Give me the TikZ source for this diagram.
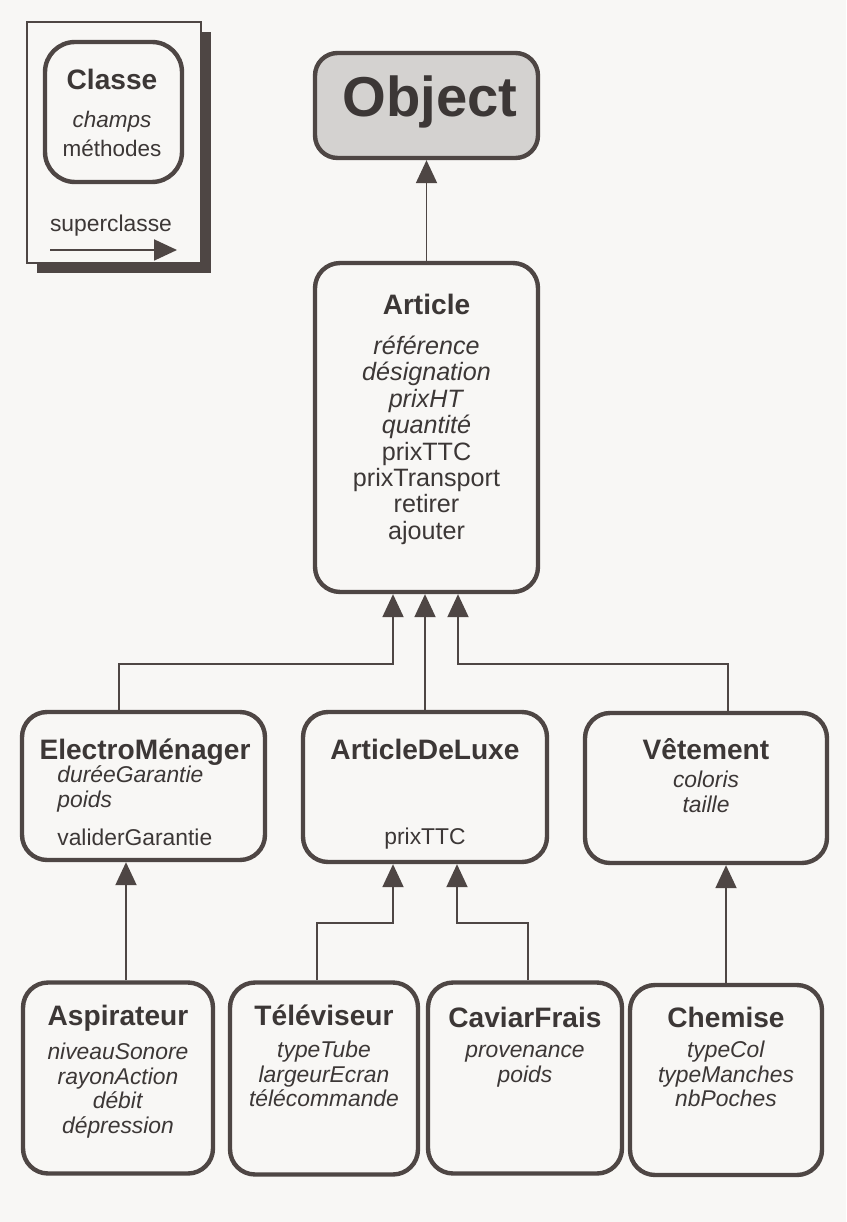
\documentclass[tikz,border=0pt]{standalone}
\usepackage{fontspec}
\setmainfont{Liberation Sans}
\usetikzlibrary{arrows.meta}

\definecolor{linecol}{RGB}{78,70,68}
\definecolor{textcol}{RGB}{60,55,54}
\definecolor{bgcol}{RGB}{248,247,245}
\definecolor{objfill}{RGB}{212,210,208}

% stacked member lines, fixed baseline distance
\newcommand{\memberstack}[1]{\vtop{\lineskiplimit=-20pt\lineskip=0pt\halign{\hfil##\hfil\cr#1\crcr}}}
\newcommand{\memberstackl}[1]{\vtop{\lineskiplimit=-20pt\lineskip=0pt\halign{##\hfil\cr#1\crcr}}}

\begin{document}
\begin{tikzpicture}[
    x=0.02cm, y=-0.02cm,
    classbox/.style={rectangle, draw=linecol, line width=2.5pt, rounded corners=0.5cm, inner sep=0pt},
    classname/.style={font=\fontsize{16}{18}\selectfont\bfseries, text=textcol, anchor=mid, inner sep=0pt},
    members/.style={font=\fontsize{13}{14}\selectfont, text=textcol, anchor=mid, inner sep=0pt},
    inh/.style={draw=linecol, line width=1.1pt, -{Triangle[length=0.46cm, width=0.42cm]}}
]

\fill[bgcol] (0,0) rectangle (846,1222);
\useasboundingbox (0,0) rectangle (846,1222);

% Legend (framed card with shadow)
\fill[linecol] (37,32) rectangle (211,273);
\draw[linecol, line width=1.3pt, fill=bgcol] (27,22) rectangle (201,263);
\node[classbox, minimum width=2.74cm, minimum height=2.8cm, rounded corners=0.6cm] (legend-box) at (113.5,112) {};
\node[classname] (legend-t) at (112,85) {Classe};
\node[members, font=\fontsize{12.8}{16.4}\selectfont] (legend-m) at (112,123) {\memberstack{\textit{champs}\cr méthodes}};
\node[members] (legend-s) at (111,227) {superclasse};
\coordinate (legend-a) at (50,250);
\coordinate (legend-b) at (177,250);
\draw[inh] (legend-a) -- (legend-b);

% Object (root)
\node[classbox, fill=objfill, minimum width=4.46cm, minimum height=2.1cm, rounded corners=0.45cm] (object) at (426.5,105.5) {};
\node[font=\fontsize{32}{36}\selectfont\bfseries, text=textcol, anchor=mid, inner sep=0pt] (object-t) at (430,112) {Object};

% Article
\node[classbox, minimum width=4.46cm, minimum height=6.58cm] (article) at (426.5,427.5) {};
\node[classname] (article-t) at (426.5,310) {Article};
\node[members, font=\fontsize{14.3}{15}\selectfont] (article-m) at (426.5,350) {\memberstack{\textit{référence}\cr \textit{désignation}\cr \textit{prixHT}\cr \textit{quantité}\cr prixTTC\cr prixTransport\cr retirer\cr ajouter}};

% Second level
\node[classbox, minimum width=4.86cm, minimum height=2.96cm] (electro) at (143.5,786) {};
\node[classname] (electro-t) at (145,755) {ElectroMénager};
\node[members, anchor=mid west] (electro-m) at (57,778) {\memberstackl{\textit{duréeGarantie}\cr \textit{poids}\cr \noalign{\vskip 8pt} validerGarantie}};

\node[classbox, minimum width=4.88cm, minimum height=3cm] (luxe) at (425,787) {};
\node[classname] (luxe-t) at (425,755) {ArticleDeLuxe};
\node[members] (luxe-m) at (425,840) {prixTTC};

\node[classbox, minimum width=4.84cm, minimum height=3cm] (vetement) at (706,788) {};
\node[classname] (vetement-t) at (706,755) {Vêtement};
\node[members] (vetement-m) at (706,783) {\memberstack{\textit{coloris}\cr \textit{taille}}};

% Third level
\node[classbox, minimum width=3.8cm, minimum height=3.82cm] (aspi) at (118,1078) {};
\node[classname] (aspi-t) at (118,1021) {Aspirateur};
\node[members] (aspi-m) at (118,1055) {\memberstack{\textit{niveauSonore}\cr \textit{rayonAction}\cr \textit{débit}\cr \textit{dépression}}};

\node[classbox, minimum width=3.76cm, minimum height=3.84cm] (tele) at (324,1078.5) {};
\node[classname] (tele-t) at (324,1021) {Téléviseur};
\node[members] (tele-m) at (324,1053) {\memberstack{\textit{typeTube}\cr \textit{largeurEcran}\cr \textit{télécommande}}};

\node[classbox, minimum width=3.88cm, minimum height=3.82cm] (caviar) at (525,1078) {};
\node[classname] (caviar-t) at (525,1023) {CaviarFrais};
\node[members] (caviar-m) at (525,1053) {\memberstack{\textit{provenance}\cr \textit{poids}}};

\node[classbox, minimum width=3.84cm, minimum height=3.8cm] (chemise) at (726,1080) {};
\node[classname] (chemise-t) at (726,1023) {Chemise};
\node[members] (chemise-m) at (726,1053) {\memberstack{\textit{typeCol}\cr \textit{typeManches}\cr \textit{nbPoches}}};

% Inheritance arrows
\draw[inh] (article.north) -- (object.south);
\draw[inh] ([xshift=-0.49cm]electro.north) -- ++(0,-46) -| ([xshift=-0.67cm]article.south);
\draw[inh] (luxe.north) -- (luxe.north |- article.south);
\draw[inh] ([xshift=0.44cm]vetement.north) -- ++(0,-47) -| ([xshift=0.63cm]article.south);
\draw[inh] ([xshift=0.16cm]aspi.north) -- ([xshift=0.16cm]aspi.north |- electro.south);
\draw[inh] ([xshift=-0.14cm]tele.north) -- ++(0,-57) -| ([xshift=-0.64cm]luxe.south);
\draw[inh] ([xshift=0.06cm]caviar.north) -- ++(0,-57) -| ([xshift=0.64cm]luxe.south);
\draw[inh] (chemise.north) -- (chemise.north |- vetement.south);

\end{tikzpicture}
\end{document}
